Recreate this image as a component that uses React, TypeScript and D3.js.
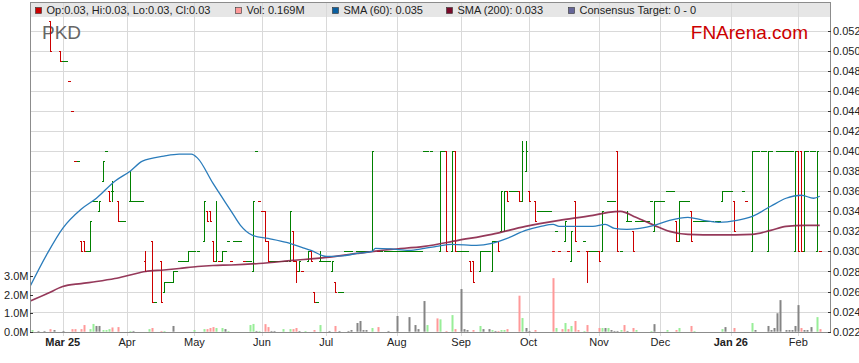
import * as d3 from 'd3';

const FONT = '"Liberation Sans", Arial, sans-serif';

// day numbers count weekdays from Mon 3 Mar 2025 (day 0); negative = Feb 2025
const BASE = Date.UTC(2025, 2, 3);

// OHLC bars, prices in 1/1000 $: [day, open, high, low, close]; [day, price] = no range
const barsFeb25 = [[-4, 53, 53, 50, 50], [-1, 50, 50, 49, 49]];
const barsMar = [[0, 49], [1, 49], [2, 47], [3, 44], [4, 39], [5, 39], [6, 31, 31, 30, 30], [7, 31, 31, 30, 30], [8, 30], [9, 30, 33, 30, 33], [10, 35], [11, 35], [12, 34, 35, 34, 35], [13, 37, 39, 37, 39], [14, 40], [15, 36, 36, 35, 35], [16, 36, 37, 35, 36], [18, 35, 35, 33, 33], [19, 33], [20, 33]];
const barsApr = [[22, 35, 38, 35, 35], [23, 35], [24, 35], [25, 35], [26, 35], [27, 29, 30, 28, 28], [29, 31, 31, 25, 25], [30, 25], [32, 29, 29, 25, 25], [33, 26, 27, 26, 27], [34, 27], [35, 27], [36, 27, 28, 27, 28], [37, 28], [38, 29], [39, 29], [40, 29], [41, 29, 30, 29, 30], [42, 30]];
const barsMay = [[43, 30], [44, 30], [46, 31, 35, 31, 35], [47, 34, 34, 33, 33], [48, 34, 34, 33, 33], [49, 31, 31, 29, 29], [50, 29, 35, 29, 30], [51, 29], [52, 29, 30, 29, 30], [53, 30], [54, 31], [55, 29], [56, 31], [57, 31], [58, 31], [59, 29], [60, 29], [61, 29], [62, 28, 35, 28, 35], [63, 40], [64, 35]];
const barsJun = [[65, 34], [66, 34, 34, 31, 31], [67, 31, 31, 29, 29], [68, 29], [69, 29], [70, 29], [71, 29], [72, 29], [73, 29], [74, 29, 34, 29, 34], [75, 32, 32, 29, 29], [76, 29, 29, 27, 28], [77, 28, 29, 28, 29], [78, 28], [80, 29, 30, 29, 30], [81, 30, 30, 29, 29], [82, 26, 26, 25, 25], [83, 25], [84, 29, 30, 29, 29], [85, 29]];
const barsJul = [[86, 29], [87, 29], [88, 28, 29, 28, 29], [89, 27, 27, 26, 26], [90, 26], [91, 26], [92, 30], [93, 30], [94, 30], [96, 30], [97, 30], [98, 30], [99, 30], [100, 30], [101, 30, 40, 30, 40], [103, 30], [104, 30], [105, 30], [106, 30], [107, 30], [108, 30]];
const barsAug = [[109, 30], [110, 30], [111, 30], [112, 30], [113, 30], [114, 30], [115, 30], [116, 30], [117, 30], [118, 40], [119, 40], [120, 40], [123, 30, 40, 30, 40], [124, 40], [125, 40, 40, 30, 30], [127, 30, 40, 30, 40], [128, 40, 40, 30, 30], [129, 30]];
const barsSep = [[130, 30], [131, 30], [132, 30], [133, 29, 29, 28, 28], [134, 29, 29, 27, 27], [136, 28, 30, 28, 30], [137, 30], [138, 30], [139, 30], [140, 28, 31, 28, 31], [141, 31], [142, 31, 31, 30, 30], [143, 32, 36, 32, 36], [144, 32, 36, 32, 36], [145, 36, 36, 35, 35], [146, 36], [147, 36], [148, 36], [149, 36, 36, 35, 35], [150, 35, 41, 35, 40], [151, 38, 41, 38, 40]];
const barsOct = [[152, 36, 36, 35, 35], [154, 35, 35, 33, 33], [155, 34], [156, 34], [157, 34], [158, 34], [159, 34], [160, 30], [161, 32], [162, 30], [164, 31, 33, 31, 33], [165, 30], [166, 29, 32, 29, 32], [167, 35, 35, 31, 31], [168, 30], [170, 31], [171, 30, 30, 27, 30], [172, 30], [173, 30], [174, 30]];
const barsNov = [[175, 30, 30, 29, 29], [176, 30, 34, 30, 34], [178, 35], [179, 35], [180, 35], [181, 40, 40, 30, 30], [182, 30], [184, 33, 34, 33, 33], [185, 33], [186, 32, 32, 30, 30], [187, 33], [188, 33], [189, 33], [190, 33], [191, 33], [192, 35], [193, 32, 35, 32, 35], [194, 35]];
const barsDec = [[195, 35], [196, 35], [197, 36], [198, 36], [199, 36], [200, 33, 33, 31, 31], [201, 31, 35, 31, 35], [202, 35], [203, 35], [204, 35], [205, 34, 34, 31, 31], [206, 33], [207, 33], [208, 33], [209, 33], [210, 33], [211, 33], [212, 33], [213, 33], [214, 33], [215, 35, 36, 35, 36], [216, 36], [217, 36]];
const barsJan = [[218, 36], [219, 35, 35, 32, 32], [222, 36], [223, 35], [225, 30, 40, 30, 40], [226, 40], [227, 40], [228, 40], [229, 40], [230, 30, 40, 30, 40], [231, 40], [233, 40], [234, 40], [235, 40], [236, 40], [237, 40], [238, 40], [239, 30, 40, 30, 40]];
const barsFeb26 = [[240, 40, 40, 30, 30], [241, 40, 40, 30, 30], [242, 30, 40, 30, 40], [243, 40], [244, 40], [245, 40], [246, 30, 40, 30, 40], [247, 30]];

// volume in millions: [day, volume]
const volUp = [[-10, 0.09], [9, 0.14], [10, 0.42], [13, 0.09], [14, 0.09], [15, 0.14], [22, 0.04], [28, 0.14], [33, 0.04], [43, 0.09], [46, 0.14], [50, 0.2], [52, 0.2], [54, 0.04], [61, 0.36], [62, 0.42], [64, 0.04], [72, 0.14], [74, 0.14], [79, 0.04], [84, 0.36], [101, 0.2], [119, 0.36], [123, 0.67], [127, 0.9], [136, 0.31], [140, 0.09], [143, 0.09], [144, 0.09], [150, 0.74], [161, 0.2], [164, 0.47], [166, 0.31], [170, 0.04], [176, 0.2], [178, 0.2], [182, 0.09], [187, 0.09], [192, 0.04], [197, 0.09], [201, 0.2], [206, 0.04], [215, 0.14], [225, 0.47], [246, 0.79]];
const volDown = [[-4, 0.14], [3, 0.14], [4, 0.14], [6, 0.14], [7, 0.36], [16, 0.23], [18, 0.25], [29, 0.2], [32, 0.04], [47, 0.14], [48, 0.2], [49, 0.25], [66, 0.41], [67, 0.25], [75, 0.14], [76, 0.2], [82, 0.09], [89, 0.31], [103, 0.25], [122, 0.72], [125, 0.04], [128, 0.14], [134, 0.09], [142, 0.04], [145, 0.14], [149, 1.95], [154, 0.09], [160, 2.9], [163, 0.14], [165, 0.14], [167, 0.58], [168, 0.09], [171, 0.36], [175, 0.2], [183, 0.36], [186, 0.2], [200, 0.09], [205, 0.31], [219, 0.2], [241, 0.2], [247, 0.14]];
const volFlat = [[-8, 0.04], [-6, 0.04], [-3, 0.09], [0, 0.04], [11, 0.31], [12, 0.31], [23, 0.04], [36, 0.31], [53, 0.14], [63, 0.04], [68, 0.04], [69, 0.04], [77, 0.04], [87, 0.04], [90, 0.04], [93, 0.04], [94, 0.09], [96, 0.47], [97, 0.58], [98, 0.09], [99, 0.09], [106, 0.04], [109, 0.85], [113, 0.79], [115, 0.36], [116, 0.14], [118, 1.66], [130, 2.31], [131, 0.14], [132, 0.09], [137, 0.14], [139, 0.14], [141, 0.04], [151, 0.2], [152, 0.04], [177, 0.2], [179, 0.09], [180, 0.04], [181, 0.04], [184, 0.04], [193, 0.41], [216, 0.25], [226, 0.09], [230, 0.31], [231, 0.09], [232, 0.2], [233, 1.0], [234, 1.71], [236, 0.09], [237, 0.09], [238, 0.09], [239, 0.31], [240, 1.44], [242, 0.09], [243, 0.09], [244, 0.25]];

// moving averages, 1/1000 $: [day, value]
const sma60 = [[-11, 26.3], [-5, 29.8], [0, 32.3], [6, 34.2], [11, 35.3], [17, 37.0], [22, 38.0], [26, 39.0], [33, 39.5], [38, 39.7], [42, 39.7], [44, 39.3], [49, 36.8], [55, 34.0], [58, 32.6], [62, 31.6], [67, 31.3], [73, 30.9], [78, 30.4], [81, 30.1], [86, 29.5], [91, 29.55], [96, 29.8], [101, 30.0], [102, 30.3], [107, 30.25], [113, 30.1], [118, 30.3], [122, 30.5], [127, 30.7], [135, 30.6], [140, 30.8], [145, 31.3], [151, 32.1], [156, 32.5], [160, 32.7], [162, 32.5], [167, 32.5], [173, 32.5], [177, 32.7], [180, 32.3], [184, 32.2], [193, 32.6], [198, 33.1], [204, 33.4], [209, 33.1], [214, 32.9], [220, 33.1], [225, 33.5], [231, 34.5], [236, 35.3], [241, 35.6], [245, 35.3], [247, 35.5]];
const sma200 = [[-11, 25.0], [-5, 25.8], [0, 26.5], [6, 26.8], [11, 27.0], [17, 27.3], [22, 27.65], [27, 28.0], [33, 28.15], [38, 28.3], [44, 28.5], [49, 28.6], [55, 28.65], [64, 28.8], [75, 29.1], [86, 29.4], [96, 29.8], [107, 30.2], [118, 30.5], [129, 31.1], [140, 31.7], [151, 32.5], [162, 33.1], [173, 33.6], [178, 33.9], [182, 34.0], [187, 33.4], [193, 32.6], [198, 32.0], [204, 31.7], [214, 31.65], [225, 31.7], [231, 32.1], [236, 32.5], [242, 32.6], [247, 32.6]];

const monthStarts = ['2025-03-01', '2025-04-01', '2025-05-01', '2025-06-01', '2025-07-01', '2025-08-01', '2025-09-01', '2025-10-01', '2025-11-01', '2025-12-01', '2026-01-01', '2026-02-01'];
const monthLabels = ['Mar 25', 'Apr', 'May', 'Jun', 'Jul', 'Aug', 'Sep', 'Oct', 'Nov', 'Dec', 'Jan 26', 'Feb'];
const priceTicks = [0.022, 0.024, 0.026, 0.028, 0.03, 0.032, 0.034, 0.036, 0.038, 0.04, 0.042, 0.044, 0.046, 0.048, 0.05, 0.052];
const volTicks = [0, 1, 2, 3];

const legendItems = [
  { label: 'Op:0.03, Hi:0.03, Lo:0.03, Cl:0.03', color: '#cc0000', x: 35 },
  { label: 'Vol: 0.169M', color: '#ff9999', x: 235 },
  { label: 'SMA (60): 0.035', color: '#0a5fa0', x: 332 },
  { label: 'SMA (200): 0.033', color: '#7a0a2a', x: 446 },
  { label: 'Consensus Target: 0 - 0', color: '#666699', x: 568 },
];

// first weekday of a month -> trading day number
function dayOf(iso: string) {
  let t = Date.parse(iso + 'T00:00:00Z');
  while ([0, 6].includes(new Date(t).getUTCDay())) t += 864e5;
  let n = 0;
  for (let d = BASE; d < t; d += 864e5) {
    const wd = new Date(d).getUTCDay();
    if (wd !== 0 && wd !== 6) n++;
  }
  return n;
}

const L = 30, R = 831, T = 2, B = 332;

export default function App() {
  const x = d3.scaleLinear().domain([-10.67, 250.67]).range([L, R]);
  const y = d3.scaleLinear().domain([0.022, 0.052]).range([331.7, 30.7]);
  const yv = d3.scaleLinear().domain([0, 3]).range([331.7, 276.3]);

  const rows = [...barsFeb25, ...barsMar, ...barsApr, ...barsMay, ...barsJun, ...barsJul, ...barsAug, ...barsSep, ...barsOct, ...barsNov, ...barsDec, ...barsJan, ...barsFeb26];
  const bars = rows.map(r => r.length === 2
    ? { d: r[0], o: r[1], h: r[1], l: r[1], c: r[1] }
    : { d: r[0], o: r[1], h: r[2], l: r[3], c: r[4] });

  const px = (d: number) => Math.round(x(d)) + 0.5;
  const py = (v: number) => Math.round(y(v / 1000)) + 0.5;

  const smaLine = d3.line<number[]>()
    .x(d => x(d[0]))
    .y(d => y(d[1] / 1000))
    .curve(d3.curveMonotoneX);

  const months = monthStarts.map((m, i) => ({ d: dayOf(m), label: monthLabels[i] }));
  const fmt = d3.format('.3f');

  const volGroups = [
    { data: volUp, color: '#98ee98' },
    { data: volDown, color: '#ff9999' },
    { data: volFlat, color: '#858585' },
  ];

  return (
    <svg width={859} height={363} style={{ position: 'absolute', left: 0, top: 0, background: '#fff' }} fontFamily={FONT}>
      <defs>
        <clipPath id="plot"><rect x={L} y={17} width={R - L} height={B - 17} /></clipPath>
      </defs>
      <rect x={L} y={T} width={R - L} height={15} fill="#e6e6e6" />

      {priceTicks.map(t => (
        <line key={t} x1={L} x2={R} y1={Math.round(y(t)) + 0.5} y2={Math.round(y(t)) + 0.5} stroke="#d9d9d9" />
      ))}
      {months.map(m => (
        <line key={m.label} x1={px(m.d)} x2={px(m.d)} y1={T} y2={B + 4} stroke="#d9d9d9" />
      ))}

      <text x={42} y={39} fontSize={19} fill="#666">PKD</text>
      <text x={808} y={38.5} fontSize={19} fill="#cc0000" textAnchor="end">FNArena.com</text>

      <g clipPath="url(#plot)">
        {volGroups.map(g => g.data.map(v => (
          <rect key={g.color + v[0]} x={Math.round(x(v[0])) - 0.5} y={yv(v[1])} width={2} height={yv(0) - yv(v[1])} fill={g.color} />
        )))}

        <g shapeRendering="crispEdges" fill="none">
          {bars.map((b, i) => {
            const prev = i > 0 ? bars[i - 1].c : b.c;
            const down = b.c < b.o || (b.c === b.o && b.c < prev);
            const cx = px(b.d);
            const p = `M${cx},${py(b.h) - 0.5}V${py(b.l) + 0.5}M${cx - 1.5},${py(b.o)}H${cx}M${cx},${py(b.c)}H${cx + 1.5}`;
            return <path key={b.d} d={p} stroke={down ? '#cc0000' : '#008000'} strokeWidth={1} />;
          })}
        </g>

        <path d={smaLine(sma200) ?? ''} fill="none" stroke="#8a2348" strokeWidth={1.7} strokeOpacity={0.9} />
        <path d={smaLine(sma60) ?? ''} fill="none" stroke="#2a7cbb" strokeWidth={1.3} />
      </g>

      <rect x={L + 0.5} y={T + 0.5} width={R - L - 1} height={B - T} fill="none" stroke="#8c8c8c" />

      {legendItems.map(it => (
        <g key={it.label}>
          <rect x={it.x + 0.5} y={7.5} width={6} height={6} fill={it.color} stroke="#333" strokeWidth={0.6} />
          <text x={it.x + 11.5} y={13.5} fontSize={11} fill="#222">{it.label}</text>
        </g>
      ))}

      {priceTicks.map(t => (
        <g key={t}>
          <line x1={R - 3} x2={R} y1={Math.round(y(t)) + 0.5} y2={Math.round(y(t)) + 0.5} stroke="#333" />
          <text x={833} y={y(t) + 4} fontSize={11} fill="#222">{fmt(t)}</text>
        </g>
      ))}

      {volTicks.map(t => (
        <g key={t}>
          <line x1={L} x2={L + 3} y1={Math.round(yv(t)) + 0.5} y2={Math.round(yv(t)) + 0.5} stroke="#333" />
          <text x={28.5} y={yv(t) + 4} fontSize={11} fill="#222" textAnchor="end">{t.toFixed(1)}M</text>
        </g>
      ))}

      {months.map(m => (
        <text key={m.label} x={x(m.d)} y={346} fontSize={11} fill="#222" textAnchor="middle"
          fontWeight={m.label.includes(' ') ? 'bold' : 'normal'}>{m.label}</text>
      ))}
    </svg>
  );
}
